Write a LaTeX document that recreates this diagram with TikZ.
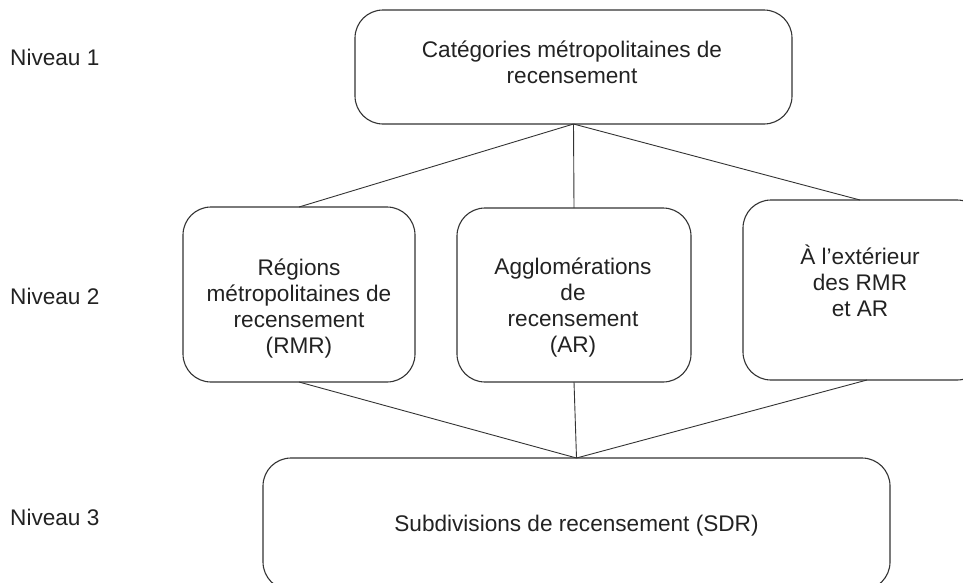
\documentclass[tikz,border=0pt]{standalone}
\usepackage{fontspec}
\setmainfont{Liberation Sans}
\definecolor{ink}{HTML}{222222}
\definecolor{edge}{HTML}{333333}
\begin{document}
\begin{tikzpicture}[x=1pt,y=-1pt,
  box/.style={draw=edge, line width=1.1pt, rounded corners=28pt, inner sep=0pt, outer sep=0pt},
  txt/.style={text=ink, font=\fontsize{22.6}{26}\selectfont, align=center, inner sep=0pt},
  lvl/.style={text=ink, font=\fontsize{22.6}{26}\selectfont, anchor=west, inner sep=0pt},
  link/.style={draw=edge, line width=0.9pt}]
\useasboundingbox (0,0) rectangle (963,582);
\clip (0,0) rectangle (963,582);
% boxes
\node[box, minimum width=437pt, minimum height=114pt] (top) at (573.5,67) {};
\node[box, minimum width=232pt, minimum height=175pt] (rmr) at (299,294.5) {};
\node[box, minimum width=234pt, minimum height=174pt] (ar) at (574,295) {};
\node[box, minimum width=242pt, minimum height=180pt] (ext) at (864,290) {};
\node[box, minimum width=627pt, minimum height=132pt] (sdr) at (576.5,524) {};
% texts
\node[txt] (toptxt) at (572,62) {Catégories métropolitaines de\\recensement};
\node[txt] (rmrtxt) at (299,309) {Régions\\métropolitaines de\\recensement\\(RMR)};
\node[txt] (artxt) at (573,308) {Agglomérations\\de\\recensement\\(AR)};
\node[txt] (exttxt) at (860,281) {À l’extérieur\\des RMR\\et AR};
\node[txt] (sdrtxt) at (576.5,526) {Subdivisions de recensement (SDR)};
% levels
\node[lvl] (n1) at (10,57) {Niveau 1};
\node[lvl] (n2) at (10,296) {Niveau 2};
\node[lvl] (n3) at (10,517) {Niveau 3};
% connectors
\coordinate (topfoot) at (top.south);
\coordinate (sdrhead) at (sdr.north);
\draw[link] (topfoot) -- (rmr.north);
\draw[link] (topfoot) -- (ar.north);
\draw[link] (topfoot) -- ([xshift=-4pt]ext.north);
\draw[link] (rmr.south) -- (sdrhead);
\draw[link] (ar.south) -- (sdrhead);
\draw[link] ([xshift=3pt]ext.south) -- (sdrhead);
\end{tikzpicture}
\end{document}
